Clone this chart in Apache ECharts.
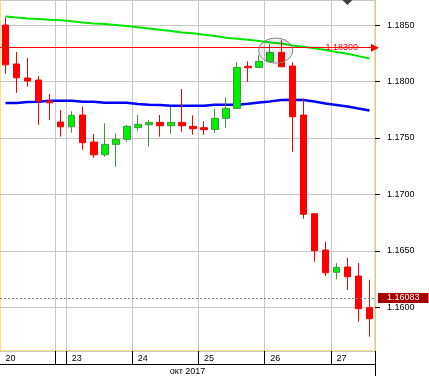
<!DOCTYPE html>
<html>
<head>
<meta charset="utf-8">
<script src="https://cdn.jsdelivr.net/npm/echarts@6/dist/echarts.min.js"></script>
<style>
html, body { margin: 0; padding: 0; background: #fff; }
#chart { width: 429px; height: 376px; }
</style>
</head>
<body>
<div id="chart"></div>
<script>
// 4-часовые свечи EUR/USD, 20-27 окт 2017
var times = [
	'20 04:00', '20 08:00', '20 12:00', '20 16:00', '20 20:00',
	'22 20:00',
	'23 00:00', '23 04:00', '23 08:00', '23 12:00', '23 16:00', '23 20:00',
	'24 00:00', '24 04:00', '24 08:00', '24 12:00', '24 16:00', '24 20:00',
	'25 00:00', '25 04:00', '25 08:00', '25 12:00', '25 16:00', '25 20:00',
	'26 00:00', '26 04:00', '26 08:00', '26 12:00', '26 16:00', '26 20:00',
	'27 00:00', '27 04:00', '27 08:00', '27 12:00'
];
var opens = [
	1.18500, 1.18155, 1.18031, 1.18013, 1.17827, 1.17641, 1.17599, 1.17703, 1.17464, 1.17351,
	1.17443, 1.17488, 1.17591, 1.17617, 1.17638, 1.17608, 1.17638, 1.17603, 1.17591, 1.17576,
	1.17674, 1.17762, 1.18134, 1.18125, 1.18175, 1.18258, 1.18137, 1.17703, 1.16829, 1.16507,
	1.16310, 1.16357, 1.16277, 1.15997
];
var closes = [
	1.18148, 1.18033, 1.18004, 1.17827, 1.17812, 1.17599, 1.17700, 1.17458, 1.17351, 1.17443,
	1.17488, 1.17603, 1.17621, 1.17638, 1.17608, 1.17638, 1.17608, 1.17582, 1.17573, 1.17674,
	1.17762, 1.18125, 1.18122, 1.18179, 1.18258, 1.18131, 1.17688, 1.16824, 1.16501, 1.16306,
	1.16354, 1.16271, 1.15988, 1.15899
];
var lows = [
	1.18069, 1.17900, 1.17954, 1.17617, 1.17659, 1.17511, 1.17546, 1.17396, 1.17325, 1.17334,
	1.17245, 1.17467, 1.17564, 1.17422, 1.17511, 1.17537, 1.17555, 1.17529, 1.17529, 1.17546,
	1.17591, 1.17762, 1.17998, 1.18125, 1.18175, 1.18131, 1.17378, 1.16785, 1.16404, 1.16277,
	1.16248, 1.16153, 1.15873, 1.15740
];
var highs = [
	1.18568, 1.18261, 1.18208, 1.18048, 1.17889, 1.17747, 1.17736, 1.17777, 1.17535, 1.17629,
	1.17541, 1.17614, 1.17703, 1.17659, 1.17703, 1.17777, 1.17933, 1.17700, 1.17647, 1.17756,
	1.17860, 1.18170, 1.18179, 1.18234, 1.18329, 1.18367, 1.18170, 1.17851, 1.16829, 1.16581,
	1.16390, 1.16439, 1.16392, 1.16244
];
// скользящие средние
var maSlow = [
	1.18575, 1.18568, 1.18558, 1.18553, 1.18547, 1.18542, 1.18533, 1.18522, 1.18513, 1.18509,
	1.18500, 1.18491, 1.18480, 1.18469, 1.18458, 1.18447, 1.18435, 1.18427, 1.18414, 1.18403,
	1.18388, 1.18379, 1.18370, 1.18358, 1.18345, 1.18336, 1.18320, 1.18308, 1.18294, 1.18279,
	1.18261, 1.18246, 1.18225, 1.18203
];
var maFast = [
	1.17809, 1.17809, 1.17818, 1.17821, 1.17830, 1.17830, 1.17830, 1.17821, 1.17821, 1.17812,
	1.17812, 1.17812, 1.17800, 1.17794, 1.17792, 1.17785, 1.17785, 1.17785, 1.17785, 1.17794,
	1.17794, 1.17794, 1.17803, 1.17815, 1.17824, 1.17836, 1.17838, 1.17836, 1.17823, 1.17805,
	1.17792, 1.17778, 1.17761, 1.17743
];
var levelPrice = 1.18300;
var lastPrice = 1.16083;
var monthLabel = 'окт 2017';
var markIndex = 31;          // треугольник сверху
var circleIndex = 24.5;      // овал вокруг свечей
var circlePrice = 1.18274;

var GRID_L = 0, GRID_T = 0, GRID_W = 375, GRID_H = 351;
var FONT = 'Liberation Sans';

function dayStart(idx) {
	return idx > 0 && times[idx].slice(0, 2) !== times[idx - 1].slice(0, 2);
}

function buildCandles() {
	var out = [];
	for (var i = 0; i < times.length; i++) {
		out.push([opens[i], closes[i], lows[i], highs[i]]);
	}
	return out;
}

var myChart = echarts.init(document.getElementById('chart'), null, {renderer: 'canvas'});
var option = {
	animation: false,
	backgroundColor: '#fff',
	grid: {
		left: GRID_L, top: GRID_T, width: GRID_W, height: GRID_H,
		outerBoundsMode: 'none',
		containLabel: false,
		show: true, borderColor: '#ffc000', borderWidth: 1, backgroundColor: '#fff'
	},
	xAxis: [{
		type: 'category',
		data: times,
		boundaryGap: true,
		axisLine: {show: false},
		axisTick: {
			show: true, length: 13, inside: false,
			interval: function (idx) { return dayStart(idx); },
			lineStyle: {color: '#000', width: 1}
		},
		splitLine: {
			show: true,
			interval: function (idx) { return dayStart(idx); },
			lineStyle: {color: '#c8c8c8', width: 1}
		},
		axisLabel: {
			interval: function (idx) { return idx === 0 || times[idx].slice(3) === '00:00'; },
			formatter: function (v) { return v.slice(0, 2); },
			align: 'left', margin: 3,
			color: '#000', fontSize: 9, fontFamily: FONT
		}
	}, {
		type: 'category',
		data: times,
		position: 'bottom',
		offset: 13,
		axisLine: {show: true, lineStyle: {color: '#000', width: 1}},
		axisTick: {show: false},
		axisLabel: {show: false},
		splitLine: {show: false},
		name: monthLabel,
		nameLocation: 'middle',
		nameGap: 3,
		nameTextStyle: {color: '#000', fontSize: 9, fontFamily: FONT, verticalAlign: 'top'}
	}],
	yAxis: {
		type: 'value',
		position: 'right',
		min: 1.15613,
		max: 1.18722,
		splitNumber: 6,
		scale: true,
		axisLine: {show: false},
		axisTick: {show: true, length: 5, lineStyle: {color: '#000'}},
		splitLine: {show: true, lineStyle: {color: '#c8c8c8', width: 1}},
		axisLabel: {
			showMinLabel: false, showMaxLabel: false,
			margin: 12, color: '#000', fontSize: 9, fontFamily: FONT,
			formatter: function (v) { return v.toFixed(4); }
		}
	},
	series: [{
		name: 'maSlow',
		type: 'line',
		data: maSlow,
		symbol: 'none',
		lineStyle: {color: '#00e600', width: 2},
		z: 2
	}, {
		name: 'maFast',
		type: 'line',
		data: maFast,
		symbol: 'none',
		lineStyle: {color: '#0000ff', width: 2.5},
		z: 2,
		markLine: {
			silent: true,
			precision: 5,
			symbol: 'none',
			lineStyle: {color: '#808080', type: [2, 2], width: 1},
			label: {
				show: true, position: 'end', distance: 3,
				formatter: function () { return lastPrice.toFixed(5); },
				color: '#fff', backgroundColor: '#a80000',
				fontSize: 9, fontFamily: FONT, lineHeight: 10, padding: [0, 9, 0, 9]
			},
			data: [{yAxis: lastPrice}]
		}
	}, {
		name: 'EURUSD',
		type: 'candlestick',
		data: buildCandles(),
		barWidth: 7,
		z: 3,
		itemStyle: {
			color: '#00f000',
			color0: '#ff0000',
			borderColor: '#3a9a3a',
			borderColor0: '#ff0000',
			borderWidth: 1
		},
		markLine: {
			silent: true,
			precision: 5,
			symbol: ['none', 'triangle'],
			symbolSize: 8,
			lineStyle: {color: '#ff0000', type: 'solid', width: 1},
			label: {
				show: true, position: 'insideEnd', distance: 17,
				formatter: function () { return levelPrice.toFixed(5); },
				color: '#ff0000', fontSize: 9, fontFamily: FONT
			},
			data: [{yAxis: levelPrice}]
		}
	}]
};
myChart.setOption(option);

// оформление: овал, треугольник, правая линия под осью
function drawExtras() {
	var c = myChart.convertToPixel({xAxisIndex: 0, yAxisIndex: 0}, [Math.floor(circleIndex), circlePrice]);
	var c2 = myChart.convertToPixel({xAxisIndex: 0, yAxisIndex: 0}, [Math.ceil(circleIndex), circlePrice]);
	var cx = (c[0] + c2[0]) / 2;
	var tx = myChart.convertToPixel({xAxisIndex: 0}, markIndex);
	myChart.setOption({
		graphic: [{
			type: 'ellipse',
			shape: {cx: cx, cy: c[1], rx: 17, ry: 12.5},
			style: {fill: 'rgba(0,0,0,0.07)', stroke: '#808080', lineWidth: 1},
			z: 10, silent: true
		}, {
			type: 'polygon',
			shape: {points: [[tx - 5, GRID_T], [tx + 5, GRID_T], [tx, GRID_T + 5]]},
			style: {fill: '#404040'},
			z: 10, silent: true
		}, {
			type: 'line',
			shape: {x1: GRID_L + GRID_W + 0.5, y1: GRID_T + GRID_H, x2: GRID_L + GRID_W + 0.5, y2: 376},
			style: {stroke: '#000', lineWidth: 1},
			z: 10, silent: true
		}]
	});
}
drawExtras();
</script>
</body>
</html>
